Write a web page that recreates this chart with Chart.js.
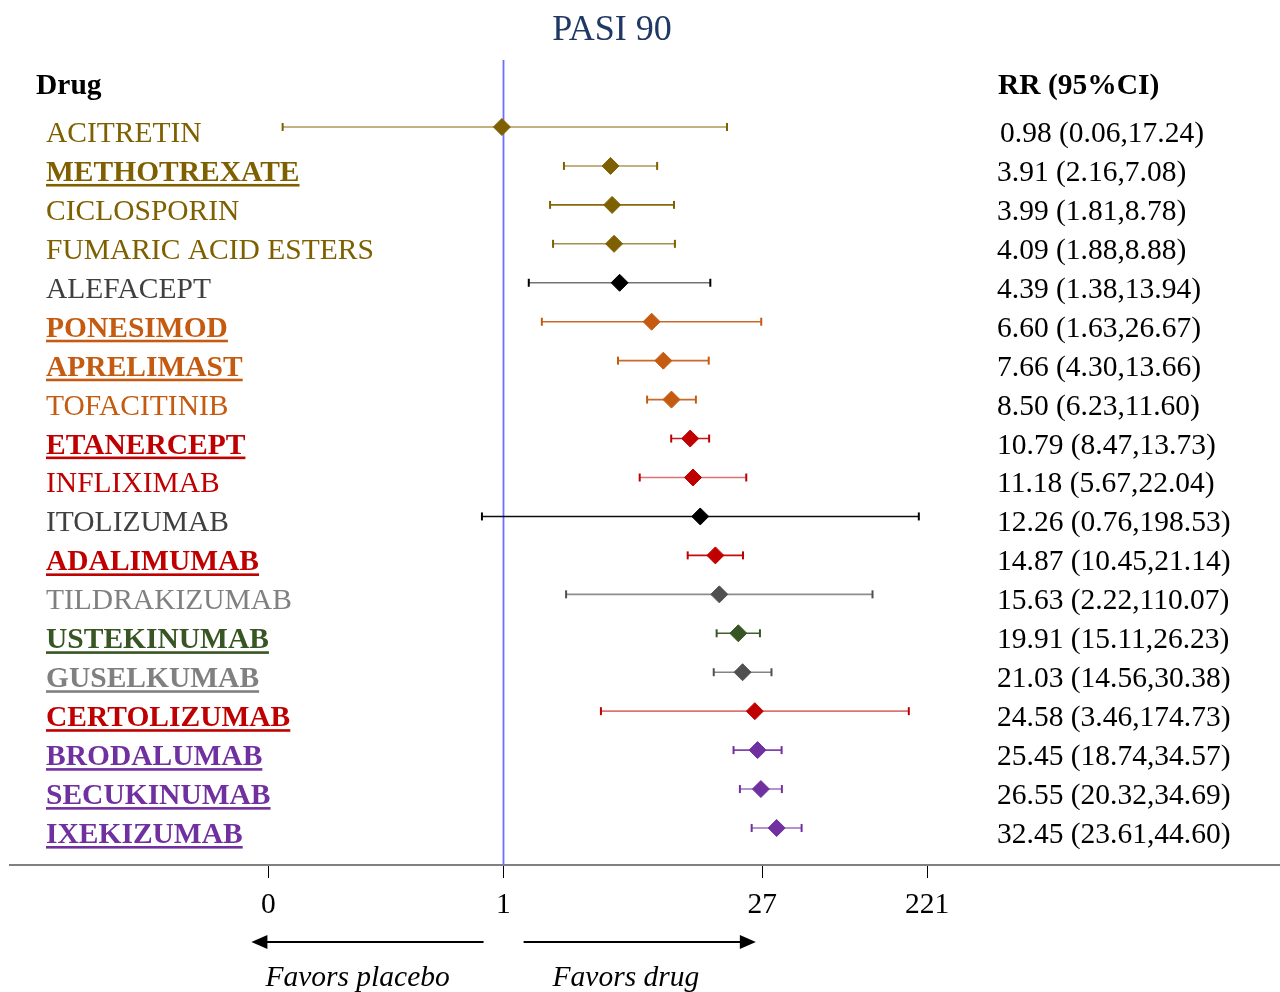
<!DOCTYPE html>
<html>
<head>
<meta charset="utf-8">
<script src="https://cdn.jsdelivr.net/npm/chart.js@4.4.1/dist/chart.umd.min.js"></script>
<style>
html,body{margin:0;padding:0;background:#ffffff;}
#c{display:block;}
</style>
</head>
<body>
<canvas id="c" width="1280" height="992"></canvas>
<script>
// ---------------- data ----------------
const drugs = ["ACITRETIN","METHOTREXATE","CICLOSPORIN","FUMARIC ACID ESTERS","ALEFACEPT","PONESIMOD","APRELIMAST","TOFACITINIB","ETANERCEPT","INFLIXIMAB","ITOLIZUMAB","ADALIMUMAB","TILDRAKIZUMAB","USTEKINUMAB","GUSELKUMAB","CERTOLIZUMAB","BRODALUMAB","SECUKINUMAB","IXEKIZUMAB"];
const rr    = [0.98, 3.91, 3.99, 4.09, 4.39, 6.60, 7.66, 8.50, 10.79, 11.18, 12.26, 14.87, 15.63, 19.91, 21.03, 24.58, 25.45, 26.55, 32.45];
const lower = [0.06, 2.16, 1.81, 1.88, 1.38, 1.63, 4.30, 6.23, 8.47, 5.67, 0.76, 10.45, 2.22, 15.11, 14.56, 3.46, 18.74, 20.32, 23.61];
const upper = [17.24, 7.08, 8.78, 8.88, 13.94, 26.67, 13.66, 11.60, 13.73, 22.04, 198.53, 21.14, 110.07, 26.23, 30.38, 174.73, 34.57, 34.69, 44.60];
const tickValues = [0.05, 1, 27, 221];
const tickLabels = ["0", "1", "27", "221"];
const titleText = "PASI 90";
const headerDrug = "Drug";
const headerRR = "RR (95%CI)";
const favorsLeft = "Favors placebo";
const favorsRight = "Favors drug";

// ---------------- styles ----------------
const BROWN = "#7F6000", ORANGE = "#C55A11", RED = "#C00000", GREEN = "#375623", PURPLE = "#7030A0";
const textColors = [BROWN, BROWN, BROWN, BROWN, "#404040", ORANGE, ORANGE, ORANGE, RED, RED, "#404040", RED, "#808080", GREEN, "#808080", RED, PURPLE, PURPLE, PURPLE];
const markerColors = [BROWN, BROWN, BROWN, BROWN, "#000000", ORANGE, ORANGE, ORANGE, RED, RED, "#000000", RED, "#505050", GREEN, "#505050", RED, PURPLE, PURPLE, PURPLE];
const lineColors = ["rgba(127,96,0,0.65)", "rgba(127,96,0,0.65)", "rgba(127,96,0,0.95)", "rgba(127,96,0,0.7)", "rgba(0,0,0,0.55)", "rgba(197,90,17,0.9)", "rgba(197,90,17,0.9)", "rgba(197,90,17,0.9)", "rgba(192,0,0,0.9)", "rgba(192,0,0,0.55)", "rgba(0,0,0,0.95)", "rgba(192,0,0,0.95)", "rgba(80,80,80,0.65)", "rgba(55,86,35,0.95)", "rgba(80,80,80,0.7)", "rgba(192,0,0,0.55)", "rgba(112,48,160,0.9)", "rgba(112,48,160,0.7)", "rgba(112,48,160,0.7)"];
const emphasized = [false, true, false, false, false, true, true, false, true, false, false, true, false, true, true, true, true, true, true];

const FONT = '"Liberation Serif", "Times New Roman", serif';
const FS = 29.5;

function fmt(v) { return v.toFixed(2); }

// ---------------- datasets ----------------
const markerDataset = {
  type: 'scatter',
  data: rr.map((v, i) => ({ x: v, y: i })),
  pointStyle: 'rectRot',
  pointRadius: 8.5,
  pointBorderWidth: 1,
  pointBackgroundColor: markerColors,
  pointBorderColor: markerColors,
  showLine: false
};

const ciDatasets = drugs.map((d, i) => ({
  type: 'line',
  data: [{ x: lower[i], y: i }, { x: upper[i], y: i }],
  borderColor: lineColors[i],
  borderWidth: 1.6,
  pointStyle: 'line',
  rotation: 90,
  pointRadius: 4,
  pointBorderWidth: 2,
  pointBorderColor: markerColors[i],
  pointBackgroundColor: markerColors[i],
  fill: false,
  tension: 0
}));

// ---------------- plugin for text / reference line / arrows ----------------
const forestPlugin = {
  id: 'forestPlugin',
  beforeDatasetsDraw(chart) {
    const { ctx, chartArea, scales } = chart;
    const px = scales.x.getPixelForValue(1);
    ctx.save();
    ctx.strokeStyle = '#6F6FFF';
    ctx.lineWidth = 1.8;
    ctx.beginPath();
    ctx.moveTo(px, chartArea.top);
    ctx.lineTo(px, chartArea.bottom);
    ctx.stroke();
    ctx.restore();
  },
  afterDraw(chart) {
    const { ctx, chartArea, scales } = chart;
    const xs = scales.x, ys = scales.y;
    ctx.save();
    ctx.textBaseline = 'alphabetic';

    // title
    ctx.font = `36px ${FONT}`;
    ctx.fillStyle = '#1F3864';
    ctx.textAlign = 'center';
    ctx.fillText(titleText, 612, 40);

    // headers
    ctx.textAlign = 'left';
    ctx.fillStyle = '#000000';
    ctx.font = `bold ${FS}px ${FONT}`;
    const hy = ys.getPixelForValue(-1.23) + 15;
    ctx.fillText(headerDrug, 36, hy);
    ctx.fillText(headerRR, 998, hy);

    // rows
    drugs.forEach((name, i) => {
      const y = ys.getPixelForValue(i) + 15;
      ctx.font = (emphasized[i] ? 'bold ' : '') + `${FS}px ${FONT}`;
      ctx.fillStyle = textColors[i];
      ctx.fillText(name, 46, y);
      if (emphasized[i]) {
        const w = ctx.measureText(name).width;
        ctx.fillRect(46, y + 3, w, 2.6);
      }
      ctx.font = `${FS}px ${FONT}`;
      ctx.fillStyle = '#000000';
      ctx.fillText(`${fmt(rr[i])} (${fmt(lower[i])},${fmt(upper[i])})`, i === 0 ? 1000 : 997, y);
    });

    // arrows
    const ay = chartArea.bottom + 77;
    const lTip = xs.getPixelForValue(0.0403), lEnd = xs.getPixelForValue(0.776);
    const rStart = xs.getPixelForValue(1.292), rTip = xs.getPixelForValue(24.9);
    ctx.strokeStyle = '#000000';
    ctx.fillStyle = '#000000';
    ctx.lineWidth = 2;
    ctx.beginPath();
    ctx.moveTo(lEnd, ay); ctx.lineTo(lTip + 10, ay);
    ctx.moveTo(rStart, ay); ctx.lineTo(rTip - 10, ay);
    ctx.stroke();
    ctx.beginPath();
    ctx.moveTo(lTip, ay); ctx.lineTo(lTip + 16, ay - 7); ctx.lineTo(lTip + 16, ay + 7); ctx.closePath();
    ctx.moveTo(rTip, ay); ctx.lineTo(rTip - 16, ay - 7); ctx.lineTo(rTip - 16, ay + 7); ctx.closePath();
    ctx.fill();

    ctx.font = `italic ${FS}px ${FONT}`;
    ctx.textAlign = 'left';
    ctx.fillText(favorsLeft, lTip + 14, chartArea.bottom + 121);
    ctx.fillText(favorsRight, rStart + 29, chartArea.bottom + 121);
    ctx.restore();
  }
};

function build() {
  Chart.defaults.font.family = FONT;
  new Chart(document.getElementById('c'), {
    type: 'scatter',
    data: { datasets: [markerDataset, ...ciDatasets] },
    options: {
      responsive: false,
      animation: false,
      events: [],
      layout: { autoPadding: false, padding: { left: 10, right: 0, top: 60, bottom: 0 } },
      plugins: { legend: { display: false }, tooltip: { enabled: false }, title: { display: false } },
      scales: {
        x: {
          type: 'logarithmic',
          position: 'bottom',
          min: Math.exp(-6.2866),
          max: Math.exp(9.892),
          afterBuildTicks: s => { s.ticks = tickValues.map(v => ({ value: v })); },
          afterFit: s => { s.height = 127; },
          ticks: {
            autoSkip: false,
            maxRotation: 0,
            padding: 10,
            color: '#000000',
            font: { family: FONT, size: FS },
            callback: (v, i) => tickLabels[i]
          },
          grid: { drawOnChartArea: false, drawTicks: true, tickLength: 13, color: '#000000', lineWidth: 1 },
          border: { display: true, color: '#808080', width: 2 }
        },
        y: {
          type: 'linear',
          reverse: true,
          min: -1.72,
          max: 18.95,
          display: false
        }
      }
    },
    plugins: [forestPlugin]
  });
}

const fontLoads = [
  `${FS}px "Liberation Serif"`, `bold ${FS}px "Liberation Serif"`, `italic ${FS}px "Liberation Serif"`
].map(f => document.fonts ? document.fonts.load(f) : Promise.resolve());
Promise.all(fontLoads).then(build, build);
</script>
</body>
</html>
